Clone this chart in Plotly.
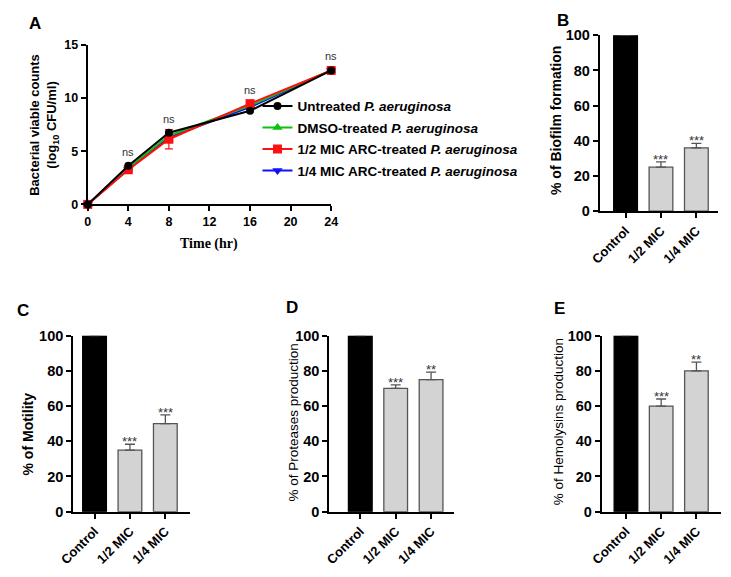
import plotly.graph_objects as go

W, H = 731, 577
def px(x): return x / W
def py(y): return 1 - y / H

FONT = "Arial, Liberation Sans, sans-serif"
SERIF = "Times New Roman, Liberation Serif, serif"

# ---------------- Panel A data ----------------
time_hr = [0, 4, 8, 16, 24]
untreated = [0, 3.63, 6.74, 8.81, 12.6]
dmso = [0, 3.45, 6.46, 9.3, 12.6]
half_mic = [0, 3.26, 6.13, 9.48, 12.6]
half_mic_err = [0, 0.1, 0.9, 0.2, 0.1]
quarter_mic = [0, 3.3, 6.3, 9.15, 12.6]
ns_times = [4, 8, 16, 24]
ns_text = ["ns", "ns", "ns", "ns"]

# ---------------- Bar panels data ----------------
categories = ["Control", "1/2 MIC", "1/4 MIC"]
biofilm = [100, 25, 36]
biofilm_err = [0, 3, 2.5]
biofilm_sig = ["", "***", "***"]
motility = [100, 35, 50]
motility_err = [0, 3.3, 5]
motility_sig = ["", "***", "***"]
proteases = [100, 70, 75]
proteases_err = [0, 2, 4.3]
proteases_sig = ["", "***", "**"]
hemolysins = [100, 60, 80]
hemolysins_err = [0, 4, 5]
hemolysins_sig = ["", "***", "**"]

fig = go.Figure()

series = [
    ("<b>1/4 MIC ARC-treated <i>P. aeruginosa</i></b>", quarter_mic, None, "#1010ff", "triangle-down", 9, 4),
    ("<b>DMSO-treated <i>P. aeruginosa</i></b>", dmso, None, "#10c010", "triangle-up", 9, 2),
    ("<b>1/2 MIC ARC-treated <i>P. aeruginosa</i></b>", half_mic, half_mic_err, "#ff1010", "square", 9, 3),
    ("<b>Untreated <i>P. aeruginosa</i></b>", untreated, None, "#000000", "circle", 8, 1),
]
for name, ys, err, col, sym, size, rank in series:
    tr = dict(
        x=time_hr, y=ys, name=name, mode="lines+markers",
        line=dict(color=col, width=2),
        marker=dict(color=col, symbol=sym, size=size),
        xaxis="x", yaxis="y", legendrank=rank, legendgroup=f"g{rank}",
        cliponaxis=False,
    )
    if err is not None:
        tr["error_y"] = dict(type="data", array=err, visible=True, color=col, thickness=1.2, width=4)
    fig.add_trace(go.Scatter(**tr))

max_at = {t: max(untreated[i], dmso[i], half_mic[i], quarter_mic[i]) for i, t in enumerate(time_hr)}
annotations = []
for t, s in zip(ns_times, ns_text):
    annotations.append(dict(x=t, y=max_at[t], xref="x", yref="y", text=s, showarrow=False,
                            yshift=14, font=dict(family=FONT, size=11, color="#333333")))

panels = [
    ("x2", "y2", biofilm, biofilm_err, biofilm_sig),
    ("x3", "y3", motility, motility_err, motility_sig),
    ("x4", "y4", proteases, proteases_err, proteases_sig),
    ("x5", "y5", hemolysins, hemolysins_err, hemolysins_sig),
]
for xa, ya, vals, errs, sigs in panels:
    fig.add_trace(go.Bar(
        x=categories, y=vals, xaxis=xa, yaxis=ya, width=0.67, showlegend=False,
        marker=dict(color=["#000000", "#d3d3d3", "#d3d3d3"],
                    line=dict(color=["#000000", "#555555", "#555555"], width=1.3)),
        error_y=dict(type="data", array=errs, arrayminus=[0] * len(errs), symmetric=False,
                     visible=True, color="#555555", thickness=1.3, width=5),
    ))
    for c, v, e, s in zip(categories, vals, errs, sigs):
        if s:
            annotations.append(dict(x=c, y=v + e, xref=xa, yref=ya, text=s, showarrow=False,
                                    yanchor="bottom", yshift=-7,
                                    font=dict(family=FONT, size=13, color="#333333")))

def axis_style(size):
    return dict(showline=True, linecolor="black", linewidth=2, ticks="outside",
                ticklen=5, tickwidth=2, tickcolor="black", showgrid=False,
                zeroline=False, tickfont=dict(family=FONT, size=size, color="black", weight="bold"))

layout = dict(
    width=W, height=H, margin=dict(l=0, r=0, t=0, b=0),
    paper_bgcolor="white", plot_bgcolor="white",
    font=dict(family=FONT, color="black"),
    legend=dict(x=px(250), y=py(85), xanchor="left", yanchor="top",
                bgcolor="rgba(0,0,0,0)", font=dict(family=FONT, size=13.5, color="black"),
                itemwidth=30, tracegroupgap=1),
    xaxis=dict(domain=[px(75), px(326)], range=[0, 24], tickvals=[0, 4, 8, 12, 16, 20, 24],
               anchor="y", **axis_style(12.5)),
    yaxis=dict(domain=[py(202), py(38)], range=[0, 15], tickvals=[0, 5, 10, 15],
               anchor="x", **axis_style(12.5)),
)

bar_geom = {
    "2": ([603, 725], [209, 28], [-0.726, 2.616]),
    "3": ([60, 180], [518, 337], [-0.603, 2.685]),
    "4": ([324, 453], [518, 337], [-0.877, 2.658]),
    "5": ([605, 728], [518, 337], [-0.685, 2.70]),
}
for k, (xd, yd, xr) in bar_geom.items():
    layout[f"xaxis{k}"] = dict(domain=[px(xd[0]), px(xd[1])], range=xr, type="category",
                               tickangle=-45, anchor=f"y{k}", **axis_style(13))
    layout[f"yaxis{k}"] = dict(domain=[py(yd[0]), py(yd[1])], range=[0, 100],
                               tickvals=[0, 20, 40, 60, 80, 100], anchor=f"x{k}", **axis_style(14.5))

def title_ann(text, x, y, size=13, bold=True, angle=-90, family=FONT):
    return dict(x=px(x), y=py(y), xref="paper", yref="paper", text=text, showarrow=False,
                textangle=angle, xanchor="center", yanchor="middle",
                font=dict(family=family, size=size, color="black", weight="bold" if bold else "normal"))

annotations += [
    title_ann("Bacterial viable counts<br>(log<sub>10</sub> CFU/ml)", 30, 120, size=13),
    title_ann("Time (hr)", 200, 243, size=14, angle=0, family=SERIF),
    title_ann("% of Biofilm formation", 558, 116, size=14),
    title_ann("% of Motility", 13, 438, size=14),
    title_ann("% of Proteases production", 287, 426, size=13.5, bold=False),
    title_ann("% of Hemolysins production", 560, 426, size=13.5, bold=False),
    title_ann("A", 21, 16, size=17, angle=0),
    title_ann("B", 565, 13, size=17, angle=0),
    title_ann("C", 8, 311, size=17, angle=0),
    title_ann("D", 286, 308, size=17, angle=0),
    title_ann("E", 561, 309, size=17, angle=0),
]
layout["annotations"] = annotations

fig.update_layout(**layout)
fig.write_html("out.html", config={"displayModeBar": False},
               post_script="document.body.style.margin='0';")
